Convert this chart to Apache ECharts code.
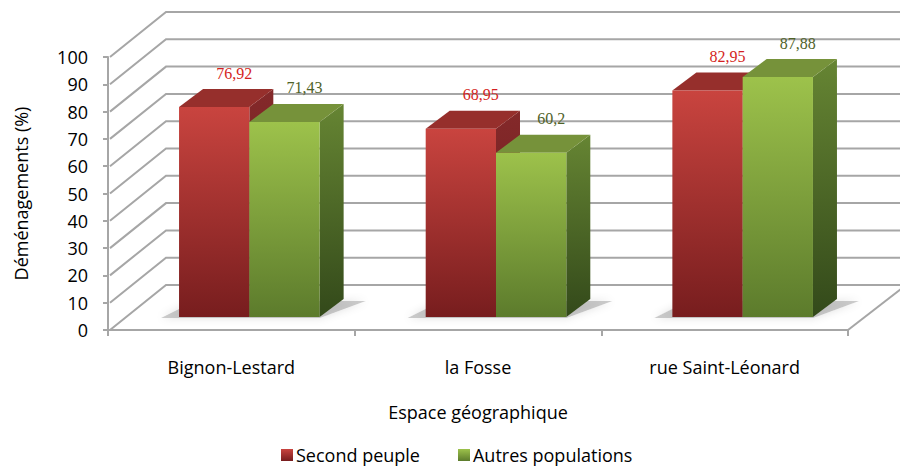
<!DOCTYPE html>
<html>
<head>
<meta charset="utf-8">
<script src="https://cdn.jsdelivr.net/npm/echarts@6/dist/echarts.min.js"></script>
<style>
  html, body { margin: 0; padding: 0; background: #fff; }
  #chart { width: 900px; height: 467px; }
</style>
</head>
<body>
<div id="chart"></div>
<script>
const categories = ['Bignon-Lestard', 'la Fosse', 'rue Saint-Léonard'];
const secondPeuple = [76.92, 68.95, 82.95];
const autresPopulations = [71.43, 60.2, 87.88];
const yTicks = [0, 10, 20, 30, 40, 50, 60, 70, 80, 90, 100];

// oblique 3D offsets (px)
const DEPTH_DX = 58, DEPTH_DY = -45;
const FRONT_DX = 18, FRONT_DY = -13;
const BAR_DX = 24, BAR_DY = -18;
const GRID_COLOR = '#a6a6a6';

const chart = echarts.init(document.getElementById('chart'), null, { renderer: 'svg' });

const vGrad = (c1, c2) => new echarts.graphic.LinearGradient(0, 0, 0, 1, [
    { offset: 0, color: c1 }, { offset: 1, color: c2 }
]);

const palette = [
    { front: ['#c9443f', '#771d1e'], top: '#962f2c', side: ['#84292a', '#6a1c1c'], label: '#d41f22' },
    { front: ['#9dc24b', '#5c7b2c'], top: '#76923a', side: ['#668533', '#33491a'], label: '#4f6228' }
];

const fmt = (v) => String(v).replace('.', ',');

const barRenderer = (idx) => (params, api) => {
    const cat = api.value(0);
    const val = api.value(1);
    const top = api.coord([cat, val]);
    const base = api.coord([cat, 0]);
    const band = api.size([1, 0])[0];
    const w = band * 0.285;
    const x0 = top[0] - w + FRONT_DX;
    const x = x0 + idx * w;
    const yT = top[1] + FRONT_DY;
    const yB = base[1] + FRONT_DY;
    const c = palette[idx];
    const children = [];

    if (idx === 0) {
        // soft shadow on the floor under both bars
        children.push({
            type: 'polygon',
            silent: true,
            shape: { points: [
                [x0 - 18, yB + 1], [x0 + 2 * w, yB + 1],
                [x0 + 2 * w + BAR_DX + 22, yB + BAR_DY + 2], [x0 + BAR_DX - 8, yB + BAR_DY + 2]
            ] },
            style: { fill: 'rgba(90,90,90,0.3)', shadowBlur: 8, shadowColor: 'rgba(0,0,0,0.4)' }
        });
    }

    children.push({
        type: 'polygon',
        shape: { points: [[x + w, yT], [x + w + BAR_DX, yT + BAR_DY], [x + w + BAR_DX, yB + BAR_DY], [x + w, yB]] },
        style: { fill: vGrad(c.side[0], c.side[1]) }
    });
    children.push({
        type: 'polygon',
        shape: { points: [[x, yT], [x + w, yT], [x + w + BAR_DX, yT + BAR_DY], [x + BAR_DX, yT + BAR_DY]] },
        style: { fill: c.top }
    });
    children.push({
        type: 'rect',
        shape: { x: x, y: yT, width: w, height: yB - yT },
        style: { fill: vGrad(c.front[0], c.front[1]) }
    });
    children.push({
        type: 'text',
        style: {
            text: fmt(val),
            x: x + w / 2 + 20,
            y: yT + BAR_DY - 16,
            align: 'center',
            verticalAlign: 'middle',
            fill: c.label,
            font: '16px "Liberation Serif", "Times New Roman", serif'
        }
    });
    return { type: 'group', children: children };
};

const gridRenderer = (params, api) => {
    const cs = params.coordSys;
    const y = api.coord([0, api.value(1)])[1];
    const pts = [[cs.x + 2, y], [cs.x + DEPTH_DX, y + DEPTH_DY], [cs.x + cs.width + DEPTH_DX + 20, y + DEPTH_DY]];
    const children = [{
        type: 'polyline',
        shape: { points: pts },
        style: { stroke: GRID_COLOR, lineWidth: 2, fill: null }
    }];
    if (api.value(1) === 0) {
        children.push({
            type: 'line',
            shape: { x1: cs.x + cs.width, y1: y, x2: cs.x + cs.width + DEPTH_DX, y2: y + DEPTH_DY },
            style: { stroke: GRID_COLOR, lineWidth: 2 }
        });
    }
    return { type: 'group', silent: true, children: children };
};

const textFont = '"Open Sans", "Liberation Sans", sans-serif';

chart.setOption({
    animation: false,
    backgroundColor: '#ffffff',
    grid: { left: 108, right: 52, top: 57, bottom: 137 },
    legend: {
        data: ['Second peuple', 'Autres populations'],
        left: 281,
        top: 445,
        padding: 0,
        icon: 'rect',
        itemWidth: 12,
        itemHeight: 12,
        itemGap: 38,
        textStyle: { fontFamily: textFont, fontSize: 18, lineHeight: 20, color: '#000', padding: [0, 0, 0, -2] }
    },
    xAxis: {
        type: 'category',
        data: categories,
        name: 'Espace géographique',
        nameLocation: 'middle',
        nameGap: 73,
        nameTextStyle: { fontFamily: textFont, fontSize: 18, color: '#000' },
        axisLine: { lineStyle: { color: GRID_COLOR, width: 2 } },
        axisTick: { show: true, length: 6, lineStyle: { color: GRID_COLOR, width: 2 } },
        axisLabel: { fontFamily: textFont, fontSize: 18, color: '#000', margin: 28 },
        splitLine: { show: false }
    },
    yAxis: {
        type: 'value',
        min: 0,
        max: 100,
        interval: 10,
        name: 'Déménagements (%)',
        nameLocation: 'middle',
        nameGap: 78,
        nameTextStyle: { fontFamily: textFont, fontSize: 18, color: '#000' },
        axisLine: { show: true, lineStyle: { color: GRID_COLOR, width: 2 } },
        axisTick: { show: true, length: 5, lineStyle: { color: GRID_COLOR, width: 2 } },
        axisLabel: { fontFamily: textFont, fontSize: 18, color: '#000', margin: 20 },
        splitLine: { show: false }
    },
    series: [
        {
            name: 'grid3d',
            type: 'custom',
            silent: true,
            z: 1,
            renderItem: gridRenderer,
            data: yTicks.map((v) => [0, v])
        },
        {
            name: 'Second peuple',
            type: 'custom',
            z: 2,
            itemStyle: { color: vGrad('#c9443f', '#771d1e') },
            renderItem: barRenderer(0),
            data: secondPeuple.map((v, i) => [i, v])
        },
        {
            name: 'Autres populations',
            type: 'custom',
            z: 2,
            itemStyle: { color: vGrad('#9dc24b', '#5c7b2c') },
            renderItem: barRenderer(1),
            data: autresPopulations.map((v, i) => [i, v])
        }
    ]
});
</script>
</body>
</html>
